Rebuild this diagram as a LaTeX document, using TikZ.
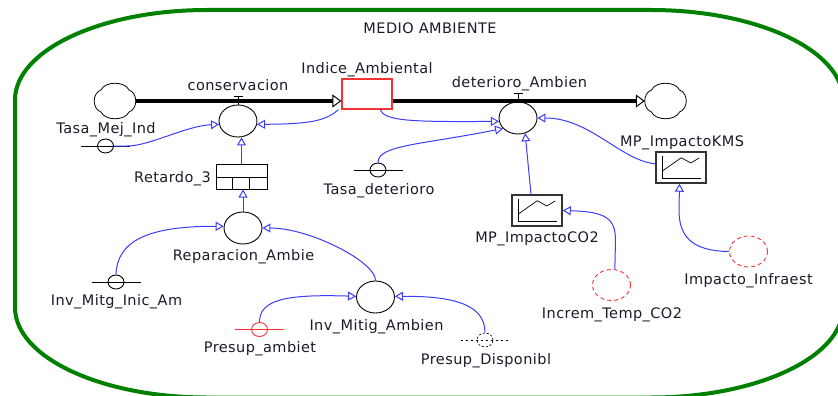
\documentclass[tikz,border=0pt]{standalone}
\usepackage{fontspec}
\setmainfont{DejaVu Sans}[LetterSpace=3]
\usetikzlibrary{arrows.meta,shapes.geometric}
\definecolor{envgreen}{RGB}{0,128,0}
\definecolor{linkblue}{RGB}{60,60,255}
\definecolor{auxred}{RGB}{245,50,50}
\definecolor{txt}{RGB}{30,25,40}
\newcommand\lookupicon[1]{%
  \draw[line width=0.8pt] ([shift={(6.7,4.5)}]#1.north west) |- ([shift={(46,27)}]#1.north west);
  \draw[line width=0.7pt] ([shift={(7.5,19.5)}]#1.north west) -- ([shift={(26,6.5)}]#1.north west) -- ([shift={(35.5,11.7)}]#1.north west) -- ([shift={(44,6.7)}]#1.north west);}
\newcommand\drawcloud[1]{%
  \draw[line width=0.8pt] ([shift={(-14,-11)}]#1.center)
    .. controls ([shift={(-10,-20)}]#1.center) and ([shift={(10,-20)}]#1.center) .. ([shift={(14,-11)}]#1.center)
    .. controls ([shift={(23,-8)}]#1.center) and ([shift={(23,8)}]#1.center) .. ([shift={(14,11)}]#1.center)
    .. controls ([shift={(10,20)}]#1.center) and ([shift={(-10,20)}]#1.center) .. ([shift={(-14,11)}]#1.center)
    .. controls ([shift={(-23,8)}]#1.center) and ([shift={(-23,-8)}]#1.center) .. cycle;}
\newcommand\auxline[2][]{%
  \draw[line width=0.9pt,#1] ([xshift=-24.5pt]#2.center) -- ([xshift=24.5pt]#2.center);}
\newcommand\valveT[1]{%
  \draw[line width=0.9pt] (#1.north) -- ([yshift=8.5pt]#1.north);
  \draw[line width=0.9pt] ([shift={(-4.5pt,8.5pt)}]#1.north) -- ([shift={(4.5pt,8.5pt)}]#1.north);}
\begin{document}
\begin{tikzpicture}[x=1pt,y=-1pt,
  lbl/.style={font=\fontsize{14.5}{17}\selectfont, text=txt, inner sep=0pt, anchor=base},
  valve/.style={ellipse, draw, line width=0.9pt, minimum width=38pt, minimum height=32pt, inner sep=0pt},
  smallaux/.style={ellipse, draw, line width=0.9pt, minimum width=16pt, minimum height=14pt, inner sep=0pt},
  ghost/.style={ellipse, draw=auxred, dash pattern=on 4pt off 3pt, line width=0.9pt, minimum width=38pt, minimum height=31pt, inner sep=0pt},
  lookup/.style={rectangle, draw=black!80, line width=1.5pt, minimum width=50pt, minimum height=31pt, inner sep=0pt},
  link/.style={draw=linkblue, line width=1pt, -{Triangle[open, length=8pt, width=9pt]}},
  flowline/.style={draw, line width=4pt, -{Triangle[open, length=9pt, width=13pt, line width=1pt]}},
  cloudbox/.style={minimum width=41pt, minimum height=34pt, inner sep=0pt},
]
\useasboundingbox (0,0) rectangle (838,396);
\clip (0,0) rectangle (838,396);
% boundary
\draw[envgreen, line width=4pt] (207,10) -- (651,10)
  .. controls (757,10) and (843,50.3) .. (843,100) -- (843,307.5)
  .. controls (843,357.2) and (757,397.5) .. (651,397.5) -- (207,397.5)
  .. controls (101,397.5) and (15,357.2) .. (15,307.5) -- (15,100)
  .. controls (15,50.3) and (101,10) .. cycle;

% nodes
\node[cloudbox] (cloudL) at (115,101) {};
\node[cloudbox] (cloudR) at (665.5,101) {};
\drawcloud{cloudL}
\drawcloud{cloudR}
\node[rectangle, draw=auxred, line width=1.2pt, minimum width=50pt, minimum height=30pt, inner sep=0pt] (stock) at (367,94) {};
\node[valve] (cons) at (238,121) {};
\node[valve] (det) at (518,118) {};
\node[smallaux] (tmi) at (105.5,146) {};
\node[rectangle, draw, line width=1pt, minimum width=51pt, minimum height=25pt, inner sep=0pt] (ret) at (241.5,176.5) {};
\node[valve] (rep) at (243,228) {};
\node[smallaux] (imia) at (116,282) {};
\node[valve] (ima) at (375.5,297) {};
\node[smallaux, draw=auxred] (pam) at (259.5,329.5) {};
\node[smallaux, dash pattern=on 2pt off 2pt, line width=0.7pt] (pdis) at (485,340) {};
\node[smallaux] (td) at (378,170) {};
\node[lookup] (lk1) at (537,210.5) {};
\node[lookup] (lk2) at (681,167.5) {};
\node[ghost] (inc) at (611.5,285) {};
\node[ghost] (imp) at (748.5,251.5) {};

% details
\valveT{cons}
\valveT{det}
\auxline{tmi}
\auxline{imia}
\auxline[auxred]{pam}
\auxline{td}
\auxline[dash pattern=on 2.5pt off 2.5pt, line width=0.7pt]{pdis}
\lookupicon{lk1}
\lookupicon{lk2}
\draw[line width=0.9pt] ([shift={(0,14)}]ret.north west) -- ([shift={(0,14)}]ret.north east);
\draw[line width=0.9pt] ([shift={(17,14)}]ret.north west) -- ([shift={(17,0)}]ret.south west);
\draw[line width=0.9pt] ([shift={(34,14)}]ret.north west) -- ([shift={(34,0)}]ret.south west);

% flows
\draw[flowline] (cloudL.east) -- (cloudL.east -| stock.west);
\draw[flowline] (stock.east |- cloudR.west) -- (cloudR.west);

% labels
\node[lbl] (tMA) at (430,34) {MEDIO AMBIENTE};
\node[lbl] (tIA) at (367,73.5) {Indice\_Ambiental};
\node[lbl] (tcons) at (238,90) {conservacion};
\node[lbl] (tdet) at (519.5,87.7) {deterioro\_Ambien};
\node[lbl] (ttmi) at (106,133) {Tasa\_Mej\_Ind};
\node[lbl, anchor=base east] (tret) at (211,182.5) {Retardo\_3};
\node[lbl] (trep) at (243.5,260.5) {Reparacion\_Ambie};
\node[lbl] (timia) at (116.5,305.5) {Inv\_Mitg\_Inic\_Am};
\node[lbl] (tima) at (376.5,330) {Inv\_Mitig\_Ambien};
\node[lbl] (tpam) at (260,352.5) {Presup\_ambiet};
\node[lbl] (tpdis) at (486,364) {Presup\_Disponibl};
\node[lbl] (ttd) at (379,194) {Tasa\_deterioro};
\node[lbl] (tlk1) at (537,242) {MP\_ImpactoCO2};
\node[lbl] (tlk2) at (682,146) {MP\_ImpactoKMS};
\node[lbl] (tinc) at (612,318) {Increm\_Temp\_CO2};
\node[lbl] (timp) at (748.5,284) {Impacto\_Infraest};

% links
\draw[link] (tmi.east) -- (127,146) .. controls (150,146) and (185,126) .. (cons.190);
\draw[link] ([xshift=-3pt]stock.south west) .. controls (325,122) and (305,124) .. (cons.350);
\draw[link] (ret.north) -- (ret.north |- cons.south);
\draw[link] (rep.north) -- (rep.north |- ret.south);
\draw[link] (imia.north) .. controls (117,240) and (150,226) .. (rep.175);
\draw[link] (ima.north) .. controls (376,262) and (310,228) .. (rep.east);
\draw[link] (pam.north) .. controls (259.5,300) and (285,294) .. (ima.178);
\draw[link] (pdis.north) .. controls (485,305) and (455,296) .. (ima.2);
\draw[link] (td.north) .. controls (378,145) and (420,145) .. (det.215);
\draw[link] ([xshift=13pt]stock.south) .. controls (385,121) and (410,122) .. (det.190);
\draw[link] ([xshift=-6pt]lk1.north) -- (det.295);
\draw[link] (lk2.172) .. controls (620,160) and (590,118) .. (det.east);
\draw[link] (inc.78) -- (615.5,240) .. controls (615.5,218) and (605,211.7) .. (lk1.east);
\draw[link] (imp.west) .. controls (690,251) and (679,235) .. (679,210) -- ([xshift=-1.5pt]lk2.south);
\end{tikzpicture}
\end{document}
